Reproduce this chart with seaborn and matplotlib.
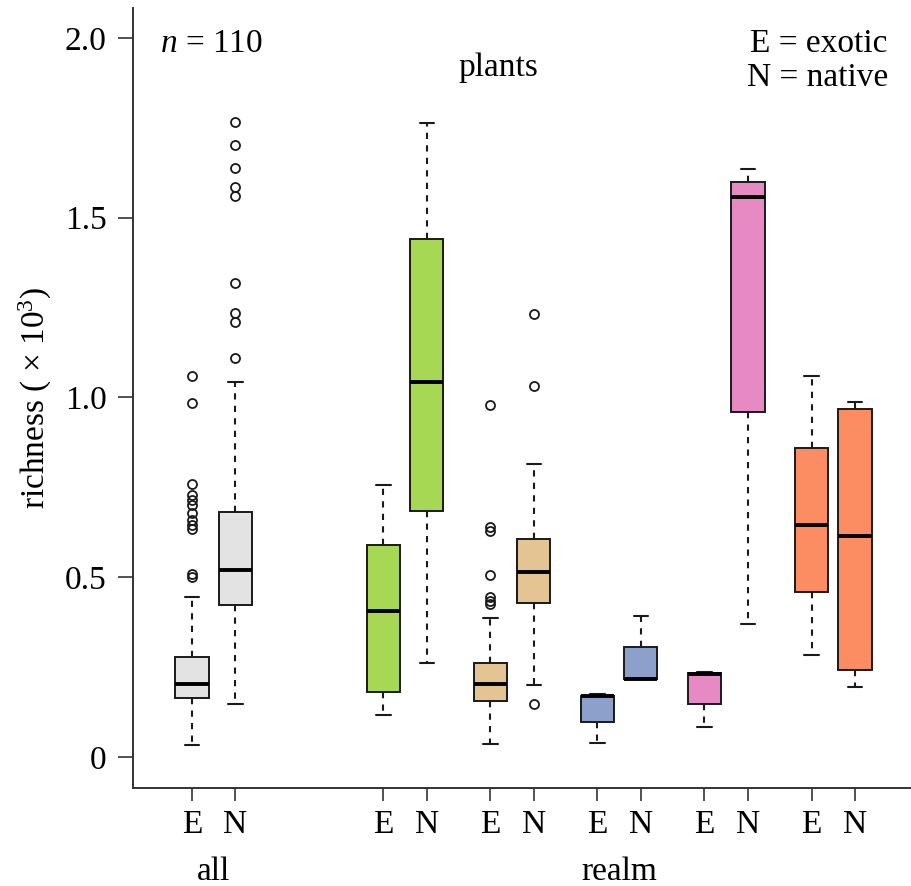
import matplotlib
matplotlib.use("Agg")
import matplotlib.pyplot as plt
import matplotlib.transforms as mtransforms
import seaborn as sns

# values (richness x 10^3), 6 groups x (E, N)
tick_labels = ["E", "N"] * 6
whisk_lo = [0.033, 0.147, 0.117, 0.261, 0.035, 0.200, 0.040, 0.217, 0.083, 0.369, 0.284, 0.196]
q1 = [0.163, 0.423, 0.182, 0.684, 0.157, 0.428, 0.098, 0.217, 0.147, 0.960, 0.458, 0.242]
med = [0.203, 0.520, 0.406, 1.042, 0.203, 0.516, 0.170, 0.217, 0.232, 1.558, 0.645, 0.616]
q3 = [0.278, 0.681, 0.589, 1.441, 0.261, 0.606, 0.170, 0.307, 0.235, 1.600, 0.859, 0.967]
whisk_hi = [0.446, 1.044, 0.757, 1.762, 0.386, 0.815, 0.176, 0.392, 0.237, 1.634, 1.060, 0.986]
fliers = [
    [0.500, 0.510, 0.635, 0.645, 0.660, 0.680, 0.700, 0.715, 0.730, 0.760, 0.985, 1.060],
    [1.109, 1.211, 1.234, 1.318, 1.560, 1.586, 1.637, 1.702, 1.765],
    [],
    [],
    [0.425, 0.435, 0.445, 0.505, 0.630, 0.640, 0.980],
    [0.147, 1.033, 1.231],
    [], [], [], [], [], [],
]

set2 = sns.color_palette("Set2")
box_colors = ["#e3e3e3"] * 2 + [set2[4]] * 2 + [set2[6]] * 2 + [set2[2]] * 2 + [set2[3]] * 2 + [set2[1]] * 2

sns.set_style("ticks")
plt.rcParams["font.family"] = ["Liberation Serif", "DejaVu Serif"]
plt.rcParams["mathtext.fontset"] = "custom"
plt.rcParams["mathtext.rm"] = "Liberation Serif"
plt.rcParams["mathtext.it"] = "Liberation Serif:italic"
plt.rcParams["text.color"] = "black"
plt.rcParams["axes.labelcolor"] = "black"
plt.rcParams["xtick.labelcolor"] = "black"
plt.rcParams["ytick.labelcolor"] = "black"

# layout: pairs of boxes, one unit apart
pair_start = [1, 5.4, 7.86, 10.32, 12.78, 15.24]
positions = [p + d for p in pair_start for d in (0, 1)]

stats = []
for i in range(12):
    stats.append(dict(whislo=whisk_lo[i], q1=q1[i], med=med[i], q3=q3[i],
                      whishi=whisk_hi[i], fliers=fliers[i]))

fig = plt.figure(figsize=(9.12, 8.86), dpi=100)
ax = fig.add_axes([133 / 912, 98 / 886, 779 / 912, 780 / 886])

ink = "#1a1a1a"
bp = ax.bxp(stats, positions=positions, widths=0.76, capwidths=0.34,
            patch_artist=True, showfliers=True,
            boxprops=dict(edgecolor=ink, linewidth=1.4),
            whiskerprops=dict(color=ink, linewidth=1.5, linestyle=(0, (3, 3))),
            capprops=dict(color=ink, linewidth=1.5),
            medianprops=dict(color="black", linewidth=2.8, solid_capstyle="butt"),
            flierprops=dict(marker="o", markerfacecolor="none", markeredgecolor=ink,
                            markersize=6.5, markeredgewidth=1.3, linestyle="none"))
for patch, c in zip(bp["boxes"], box_colors):
    patch.set_facecolor(c)

ax.set_xlim(-0.356, 17.55)
ax.set_ylim(-0.086, 2.083)
ax.set_xticks(positions)
ax.set_xticklabels(tick_labels)
ax.set_yticks([0, 0.5, 1.0, 1.5, 2.0])
ax.set_yticklabels(["0", "0.5", "1.0", "1.5", "2.0"])
ax.tick_params(axis="y", labelsize=24, length=11, width=1.2, pad=8, color="#333333")
ax.tick_params(axis="x", labelsize=24, length=9.5, width=1.2, pad=6, color="#333333")
sns.despine(ax=ax)
for s in ("left", "bottom"):
    ax.spines[s].set_linewidth(1.4)
    ax.spines[s].set_color("#333333")

ax.set_ylabel(r"richness ( × $10^3$)", fontsize=24, labelpad=8)

ax.text(0.035, 0.944, r"$n$ = 110", transform=ax.transAxes, fontsize=24, va="baseline")
ax.text(0.4685, 0.913, "plants", transform=ax.transAxes, fontsize=24, ha="center", va="baseline")
ax.text(0.969, 0.944, "E = exotic", transform=ax.transAxes, fontsize=24, ha="right", va="baseline")
ax.text(0.969, 0.900, "N = native", transform=ax.transAxes, fontsize=24, ha="right", va="baseline")

trans = mtransforms.blended_transform_factory(ax.transData, ax.transAxes)
ax.text((positions[0] + positions[1]) / 2, -0.118, "all", transform=trans,
        fontsize=24, ha="center", va="baseline")
ax.text((positions[2] + positions[-1]) / 2, -0.118, "realm", transform=trans,
        fontsize=24, ha="center", va="baseline")

fig.savefig("out.png", dpi=100)
